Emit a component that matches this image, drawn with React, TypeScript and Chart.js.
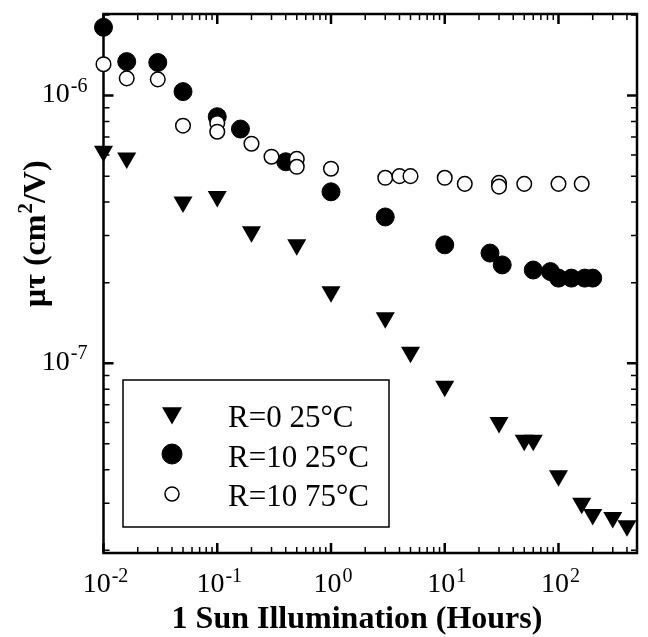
import React, { useEffect, useRef } from "react";
import { Chart, registerables } from "chart.js";

Chart.register(...registerables);

// ---------- data ----------
const seriesLabels = ["R=0 25°C", "R=10 25°C", "R=10 75°C"];

const hoursR0at25 = [0.01, 0.016, 0.05, 0.1, 0.2, 0.5, 1, 3, 5, 10, 30, 50, 60, 100, 160, 200, 300, 400];
const muTauR0at25 = [6.2e-7, 5.85e-7, 4.0e-7, 4.2e-7, 3.1e-7, 2.77e-7, 1.85e-7, 1.48e-7, 1.1e-7, 8.2e-8, 6.0e-8, 5.15e-8, 5.15e-8, 3.8e-8, 3.0e-8, 2.72e-8, 2.65e-8, 2.47e-8];

const hoursR10at25 = [0.01, 0.016, 0.03, 0.05, 0.1, 0.16, 0.4, 1, 3, 10, 25, 32, 60, 85, 100, 130, 170, 200];
const muTauR10at25 = [1.8e-6, 1.34e-6, 1.33e-6, 1.035e-6, 8.34e-7, 7.5e-7, 5.66e-7, 4.37e-7, 3.52e-7, 2.77e-7, 2.58e-7, 2.33e-7, 2.23e-7, 2.2e-7, 2.08e-7, 2.08e-7, 2.08e-7, 2.08e-7];

const hoursR10at75 = [0.01, 0.016, 0.03, 0.05, 0.1, 0.1, 0.2, 0.3, 0.5, 0.5, 1, 3, 4, 5, 10, 15, 30, 30, 50, 100, 160];
const muTauR10at75 = [1.31e-6, 1.16e-6, 1.15e-6, 7.72e-7, 7.9e-7, 7.33e-7, 6.61e-7, 5.91e-7, 5.8e-7, 5.42e-7, 5.33e-7, 4.93e-7, 5.0e-7, 5.0e-7, 4.93e-7, 4.68e-7, 4.72e-7, 4.57e-7, 4.68e-7, 4.68e-7, 4.68e-7];

const xTickExponents = [-2, -1, 0, 1, 2];
const yTickExponents = [-7, -6];

const xTitle = "1 Sun Illumination (Hours)";
const yTitleParts = ["μτ (cm", "2", "/V)"];

const X_MIN = 0.01;
const X_MAX = 490;
const Y_MIN = 1.954e-8;
const Y_MAX = 2.018e-6;

const FONT = '"Liberation Serif", "Times New Roman", Times, serif';

const toPoints = (xs: number[], ys: number[]) => xs.map((x, i) => ({ x, y: ys[i] }));

const legendRadius = [11.5, 10, 7];

const decoPlugin = {
  id: "deco",
  beforeDatasetsDraw(chart: any) {
    const { ctx, chartArea: a, scales } = chart;
    ctx.save();
    ctx.strokeStyle = "#000";
    const drawTicks = (scale: any, horizontal: boolean) => {
      const lo = Math.floor(Math.log10(scale.min));
      const hi = Math.ceil(Math.log10(scale.max));
      for (let d = lo; d <= hi; d++) {
        for (let m = 1; m <= 9; m++) {
          const v = m * Math.pow(10, d);
          if (v < scale.min * 0.999 || v > scale.max * 1.001) continue;
          const p = scale.getPixelForValue(v);
          const major = m === 1;
          const len = major ? 10 : 6;
          ctx.lineWidth = major ? 2.5 : 1.5;
          ctx.beginPath();
          if (horizontal) {
            ctx.moveTo(p, a.bottom);
            ctx.lineTo(p, a.bottom - len);
            ctx.moveTo(p, a.top);
            ctx.lineTo(p, a.top + len);
          } else {
            ctx.moveTo(a.left, p);
            ctx.lineTo(a.left + len, p);
            ctx.moveTo(a.right, p);
            ctx.lineTo(a.right - len, p);
          }
          ctx.stroke();
        }
      }
    };
    drawTicks(scales.x, true);
    drawTicks(scales.y, false);
    ctx.lineWidth = 2.5;
    ctx.strokeRect(a.left, a.top, a.right - a.left, a.bottom - a.top);
    ctx.restore();
  },
  afterDraw(chart: any) {
    const { ctx, chartArea: a, scales } = chart;
    ctx.save();
    ctx.fillStyle = "#000";
    ctx.textBaseline = "alphabetic";
    ctx.textAlign = "left";
    const mainFont = `28px ${FONT}`;
    const supFont = `20px ${FONT}`;

    // x tick labels
    xTickExponents.forEach((e) => {
      const p = scales.x.getPixelForValue(Math.pow(10, e));
      ctx.font = mainFont;
      const w10 = ctx.measureText("10").width;
      ctx.font = supFont;
      const we = ctx.measureText(String(e)).width;
      const w = w10 + 1 + we;
      const start = p - w / 2 + 2;
      ctx.font = mainFont;
      ctx.fillText("10", start, a.bottom + 39);
      ctx.font = supFont;
      ctx.fillText(String(e), start + w10 + 1, a.bottom + 29);
    });

    // y tick labels
    yTickExponents.forEach((e) => {
      const p = scales.y.getPixelForValue(Math.pow(10, e));
      ctx.font = mainFont;
      const w10 = ctx.measureText("10").width;
      ctx.font = supFont;
      const we = ctx.measureText(String(e)).width;
      const w = w10 + 1 + we;
      const start = a.left - 16 - w;
      ctx.font = mainFont;
      ctx.fillText("10", start, p + 6.5);
      ctx.font = supFont;
      ctx.fillText(String(e), start + w10 + 1, p - 4);
    });

    // x title
    ctx.font = `bold 32px ${FONT}`;
    ctx.textAlign = "center";
    ctx.fillText(xTitle, 357, 628);

    // y title (rotated)
    ctx.save();
    ctx.translate(45, 307);
    ctx.rotate(-Math.PI / 2);
    ctx.textAlign = "left";
    let cx = 0;
    ctx.font = `bold 32px ${FONT}`;
    ctx.fillText(yTitleParts[0], cx, 0);
    cx += ctx.measureText(yTitleParts[0]).width;
    ctx.font = `bold 21px ${FONT}`;
    ctx.fillText(yTitleParts[1], cx + 1, -13);
    cx += ctx.measureText(yTitleParts[1]).width + 1;
    ctx.font = `bold 32px ${FONT}`;
    ctx.fillText(yTitleParts[2], cx, 0);
    ctx.restore();

    // legend
    const box = { x: 123, y: 380, w: 266, h: 147 };
    ctx.lineWidth = 1.5;
    ctx.strokeStyle = "#000";
    ctx.fillStyle = "#fff";
    ctx.fillRect(box.x, box.y, box.w, box.h);
    ctx.strokeRect(box.x, box.y, box.w, box.h);
    const rowsY = [413, 454, 494];
    const baselines = [427, 467, 506];
    chart.data.datasets.forEach((ds: any, i: number) => {
      const mx = 172;
      const my = rowsY[i];
      const r = legendRadius[i];
      ctx.beginPath();
      if (ds.pointStyle === "triangle") {
        ctx.moveTo(mx, my + r);
        ctx.lineTo(mx + Math.sin(Math.PI + (2 * Math.PI) / 3) * r, my - Math.cos(Math.PI + (2 * Math.PI) / 3) * r);
        ctx.lineTo(mx + Math.sin(Math.PI + (4 * Math.PI) / 3) * r, my - Math.cos(Math.PI + (4 * Math.PI) / 3) * r);
        ctx.closePath();
      } else {
        ctx.arc(mx, my, r, 0, Math.PI * 2);
      }
      ctx.fillStyle = ds.backgroundColor;
      ctx.fill();
      if (ds.borderWidth) {
        ctx.lineWidth = ds.borderWidth;
        ctx.strokeStyle = ds.borderColor;
        ctx.stroke();
      }
      ctx.fillStyle = "#000";
      ctx.font = `31px ${FONT}`;
      ctx.textAlign = "left";
      ctx.fillText(ds.label, 228, baselines[i]);
    });
    ctx.restore();
  },
};

export default function App() {
  const ref = useRef<HTMLCanvasElement | null>(null);
  useEffect(() => {
    if (!ref.current) return;
    const chart = new Chart(ref.current, {
      type: "scatter",
      data: {
        datasets: [
          {
            label: seriesLabels[0],
            data: toPoints(hoursR0at25, muTauR0at25),
            pointStyle: "triangle",
            rotation: 180,
            pointRadius: 11,
            backgroundColor: "#000",
            borderColor: "#000",
            borderWidth: 0,
            order: 3,
            clip: false,
          },
          {
            label: seriesLabels[1],
            data: toPoints(hoursR10at25, muTauR10at25),
            pointStyle: "circle",
            pointRadius: 9,
            backgroundColor: "#000",
            borderColor: "#000",
            borderWidth: 1,
            order: 2,
            clip: false,
          },
          {
            label: seriesLabels[2],
            data: toPoints(hoursR10at75, muTauR10at75),
            pointStyle: "circle",
            pointRadius: 7.3,
            backgroundColor: "#fff",
            borderColor: "#000",
            borderWidth: 1.5,
            order: 1,
            clip: false,
          },
        ] as any,
      },
      options: {
        animation: false,
        responsive: false,
        devicePixelRatio: 1,
        layout: { padding: { left: 0, top: 14, right: 5, bottom: 0 } },
        plugins: { legend: { display: false }, tooltip: { enabled: false } },
        scales: {
          x: {
            type: "logarithmic",
            min: X_MIN,
            max: X_MAX,
            grid: { display: false },
            border: { display: false },
            ticks: { display: false },
            afterFit: (s: any) => {
              s.height = 84;
            },
          },
          y: {
            type: "logarithmic",
            min: Y_MIN,
            max: Y_MAX,
            grid: { display: false },
            border: { display: false },
            ticks: { display: false },
            afterFit: (s: any) => {
              s.width = 103.5;
            },
          },
        },
      } as any,
      plugins: [decoPlugin],
    });
    return () => chart.destroy();
  }, []);
  return (
    <div style={{ position: "fixed", left: 0, top: 0, width: 648, height: 637, background: "#fff" }}>
      <canvas ref={ref} width={648} height={637} style={{ display: "block" }} />
    </div>
  );
}
